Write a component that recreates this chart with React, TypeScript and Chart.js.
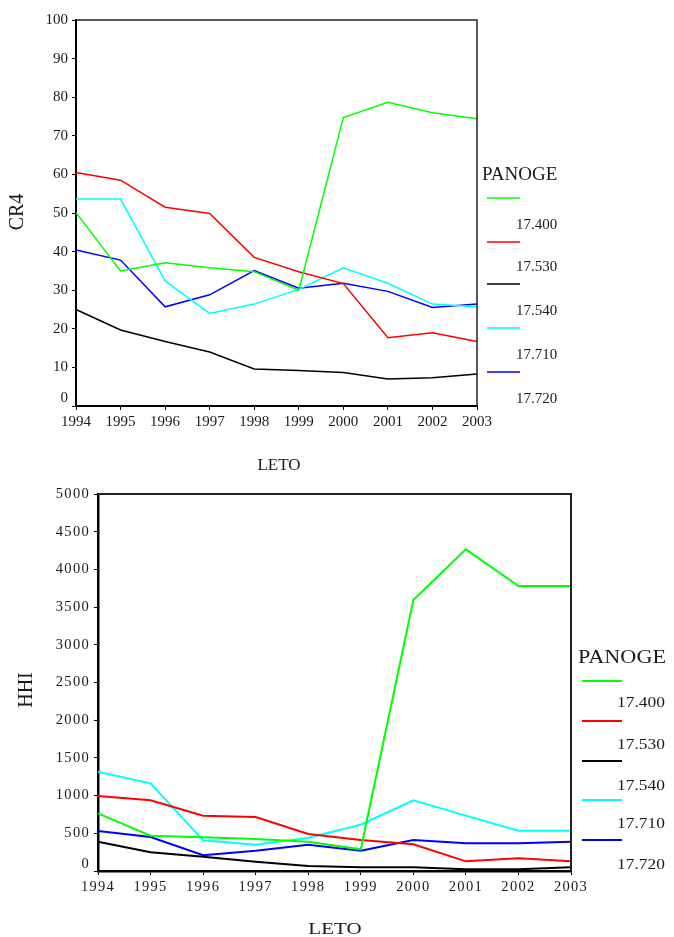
import React, { useEffect, useRef } from 'react';
import { Chart, registerables } from 'chart.js';

Chart.register(...registerables);

// ---------- data ----------
const YEARS = ['1994', '1995', '1996', '1997', '1998', '1999', '2000', '2001', '2002', '2003'];
const PANOGE = ['17.400', '17.530', '17.540', '17.710', '17.720'];

const CR4_17400 = [50.1, 35.0, 37.1, 35.8, 34.8, 30.0, 74.7, 78.7, 76.0, 74.4];
const CR4_17530 = [60.5, 58.5, 51.5, 49.9, 38.5, 34.8, 31.7, 17.7, 19.0, 16.7];
const CR4_17540 = [25.0, 19.7, 16.7, 14.0, 9.6, 9.2, 8.7, 7.0, 7.3, 8.3];
const CR4_17710 = [53.6, 53.6, 32.4, 24.0, 26.4, 30.2, 35.8, 31.8, 26.4, 25.7];
const CR4_17720 = [40.4, 37.8, 25.7, 28.8, 35.1, 30.5, 31.8, 29.7, 25.5, 26.4];

const HHI_17400 = [765, 468, 447, 424, 389, 288, 3594, 4266, 3780, 3780];
const HHI_17530 = [995, 937, 734, 716, 491, 411, 354, 128, 168, 128];
const HHI_17540 = [389, 248, 190, 124, 66, 49, 49, 22, 22, 49];
const HHI_17710 = [1317, 1163, 407, 349, 440, 614, 937, 734, 535, 535];
const HHI_17720 = [530, 451, 208, 270, 349, 270, 411, 367, 367, 389];

const CR4_SERIES = [CR4_17400, CR4_17530, CR4_17540, CR4_17710, CR4_17720];
const HHI_SERIES = [HHI_17400, HHI_17530, HHI_17540, HHI_17710, HHI_17720];

const SERIES_COLORS = ['#00ff00', '#ff0000', '#000000', '#00ffff', '#0000ff'];

type PanelOpts = {
  width: number;
  height: number;
  series: number[][];
  yMax: number;
  yStep: number;
  yTitle: string;
  xTitle: string;
  areaLeft: number;
  areaRight: number;
  areaTop: number;
  areaBottom: number;
  tickFont: number;
  tickSpacing: string;
  zeroLift: number;
  stretch: number;
  lineWidth: number;
  axisWidth: number;
  boxWidth: number;
  yTitleX: number;
  yTitleY: number;
  yTitleSize: number;
  xTitleX: number;
  xTitleY: number;
  xTitleSize: number;
  legX: number;
  legHeaderY: number;
  legHeaderSize: number;
  legLineX0: number;
  legLineX1: number;
  legLineY: number[];
  legLabelX: number;
  legLabelY: number[];
  legLabelSize: number;
};

const FONT = "'Liberation Serif', 'Times New Roman', serif";

function drawText(
  ctx: CanvasRenderingContext2D,
  s: string,
  x: number,
  y: number,
  size: number,
  align: CanvasTextAlign,
  sx: number,
  rot = 0
) {
  ctx.save();
  ctx.translate(x, y);
  if (rot) ctx.rotate(rot);
  ctx.scale(sx, 1);
  ctx.font = `${size}px ${FONT}`;
  ctx.textAlign = align;
  ctx.textBaseline = 'middle';
  ctx.fillStyle = '#1a1a1a';
  ctx.fillText(s, 0, 0);
  ctx.restore();
}

function Panel(props: { o: PanelOpts }) {
  const ref = useRef<HTMLCanvasElement | null>(null);
  const o = props.o;

  useEffect(() => {
    const canvas = ref.current;
    if (!canvas) return;
    const xAxisH = 30;

    const decor = {
      id: 'decor',
      beforeDraw(chart: any) {
        (chart.ctx as any).letterSpacing = o.tickSpacing;
        // the reference lifts the "0" label of the value axis a little
        const ys = chart.scales.y;
        if (ys && typeof ys.getLabelItems === 'function') {
          const items = ys.getLabelItems(chart.chartArea);
          items.forEach((it: any) => {
            if (String(it.label) === '0' && !it.__lifted && it.options && it.options.translation) {
              it.options.translation[1] -= o.zeroLift;
              it.__lifted = true;
            }
          });
        }
      },
      afterDraw(chart: any) {
        const ctx = chart.ctx as CanvasRenderingContext2D;
        const a = chart.chartArea;
        ctx.save();
        (ctx as any).letterSpacing = '0px';
        // top and right frame
        ctx.strokeStyle = '#222';
        ctx.lineWidth = o.boxWidth;
        ctx.beginPath();
        ctx.moveTo(a.left, a.top);
        ctx.lineTo(a.right, a.top);
        ctx.lineTo(a.right, a.bottom);
        ctx.stroke();

        // axis titles
        drawText(ctx, o.yTitle, o.yTitleX, o.yTitleY, o.yTitleSize, 'center', 1, -Math.PI / 2);
        drawText(ctx, o.xTitle, o.xTitleX, o.xTitleY, o.xTitleSize, 'center', o.stretch);

        // legend
        drawText(ctx, 'PANOGE', o.legX, o.legHeaderY, o.legHeaderSize, 'left', o.stretch);
        chart.data.datasets.forEach((ds: any, i: number) => {
          ctx.strokeStyle = ds.borderColor;
          ctx.lineWidth = o.lineWidth;
          ctx.beginPath();
          ctx.moveTo(o.legLineX0, o.legLineY[i]);
          ctx.lineTo(o.legLineX1, o.legLineY[i]);
          ctx.stroke();
          drawText(ctx, ds.label, o.legLabelX, o.legLabelY[i], o.legLabelSize, 'left', o.stretch);
        });
        ctx.restore();
      },
    };

    const chart = new Chart(canvas, {
      type: 'line',
      data: {
        labels: YEARS,
        datasets: o.series.map((vals, i) => ({
          label: PANOGE[i],
          data: vals,
          borderColor: SERIES_COLORS[i],
          backgroundColor: SERIES_COLORS[i],
          borderWidth: o.lineWidth,
          pointRadius: 0,
          tension: 0,
          fill: false,
        })),
      },
      options: {
        animation: false,
        responsive: false,
        maintainAspectRatio: false,
        devicePixelRatio: 1,
        layout: {
          padding: {
            left: 0,
            top: o.areaTop,
            right: o.width - o.areaRight,
            bottom: o.height - o.areaBottom - xAxisH,
          },
        },
        plugins: {
          legend: { display: false },
          tooltip: { enabled: false },
        },
        scales: {
          x: {
            type: 'category',
            offset: false,
            grid: {
              display: true,
              drawOnChartArea: false,
              drawTicks: true,
              tickLength: 4,
              color: '#000',
              lineWidth: 1,
            },
            border: { display: true, color: '#000', width: o.axisWidth },
            ticks: {
              color: '#1a1a1a',
              font: { family: FONT, size: o.tickFont },
              padding: 3,
              maxRotation: 0,
              autoSkip: false,
            },
            afterFit: (s: any) => {
              s.height = xAxisH;
            },
          },
          y: {
            type: 'linear',
            min: 0,
            max: o.yMax,
            grid: {
              display: true,
              drawOnChartArea: false,
              drawTicks: true,
              tickLength: 4,
              color: '#000',
              lineWidth: 1,
            },
            border: { display: true, color: '#000', width: o.axisWidth },
            ticks: {
              stepSize: o.yStep,
              color: '#1a1a1a',
              font: { family: FONT, size: o.tickFont },
              padding: 4,
              callback: (v: any) => String(v),
            },
            afterFit: (s: any) => {
              s.width = o.areaLeft;
            },
          },
        },
      },
      plugins: [decor],
    } as any);

    return () => chart.destroy();
  }, [o]);

  return <canvas ref={ref} width={o.width} height={o.height} style={{ display: 'block', width: o.width, height: o.height }} />;
}

const TOP: PanelOpts = {
  width: 674,
  height: 470,
  series: CR4_SERIES,
  yMax: 100,
  yStep: 10,
  yTitle: 'CR4',
  xTitle: 'LETO',
  areaLeft: 76,
  areaRight: 477,
  areaTop: 20,
  areaBottom: 406,
  tickFont: 15,
  tickSpacing: '0px',
  zeroLift: 8,
  stretch: 1,
  lineWidth: 1.5,
  axisWidth: 2,
  boxWidth: 1.5,
  yTitleX: 18,
  yTitleY: 212,
  yTitleSize: 20,
  xTitleX: 279,
  xTitleY: 466,
  xTitleSize: 17,
  legX: 482,
  legHeaderY: 175,
  legHeaderSize: 19,
  legLineX0: 487,
  legLineX1: 520,
  legLineY: [198, 242, 284, 328, 372],
  legLabelX: 516,
  legLabelY: [225, 267, 311, 355, 399],
  legLabelSize: 15,
};

const BOTTOM: PanelOpts = {
  width: 674,
  height: 467,
  series: HHI_SERIES,
  yMax: 5000,
  yStep: 500,
  yTitle: 'HHI',
  xTitle: 'LETO',
  areaLeft: 98,
  areaRight: 571,
  areaTop: 24,
  areaBottom: 401,
  tickFont: 14.5,
  tickSpacing: '1.3px',
  zeroLift: 7,
  stretch: 1.2,
  lineWidth: 2,
  axisWidth: 2.5,
  boxWidth: 2,
  yTitleX: 27,
  yTitleY: 220,
  yTitleSize: 20,
  xTitleX: 335,
  xTitleY: 459,
  xTitleSize: 17.5,
  legX: 578,
  legHeaderY: 188,
  legHeaderSize: 18.5,
  legLineX0: 582,
  legLineX1: 622,
  legLineY: [211, 251, 291, 330, 370],
  legLabelX: 617,
  legLabelY: [233, 275, 316, 354, 395],
  legLabelSize: 14.5,
};

export default function App() {
  useEffect(() => {
    document.body.style.margin = '0';
    document.body.style.background = '#fff';
  }, []);
  return (
    <div style={{ width: 674, height: 937, background: '#fff' }}>
      <Panel o={TOP} />
      <Panel o={BOTTOM} />
    </div>
  );
}
